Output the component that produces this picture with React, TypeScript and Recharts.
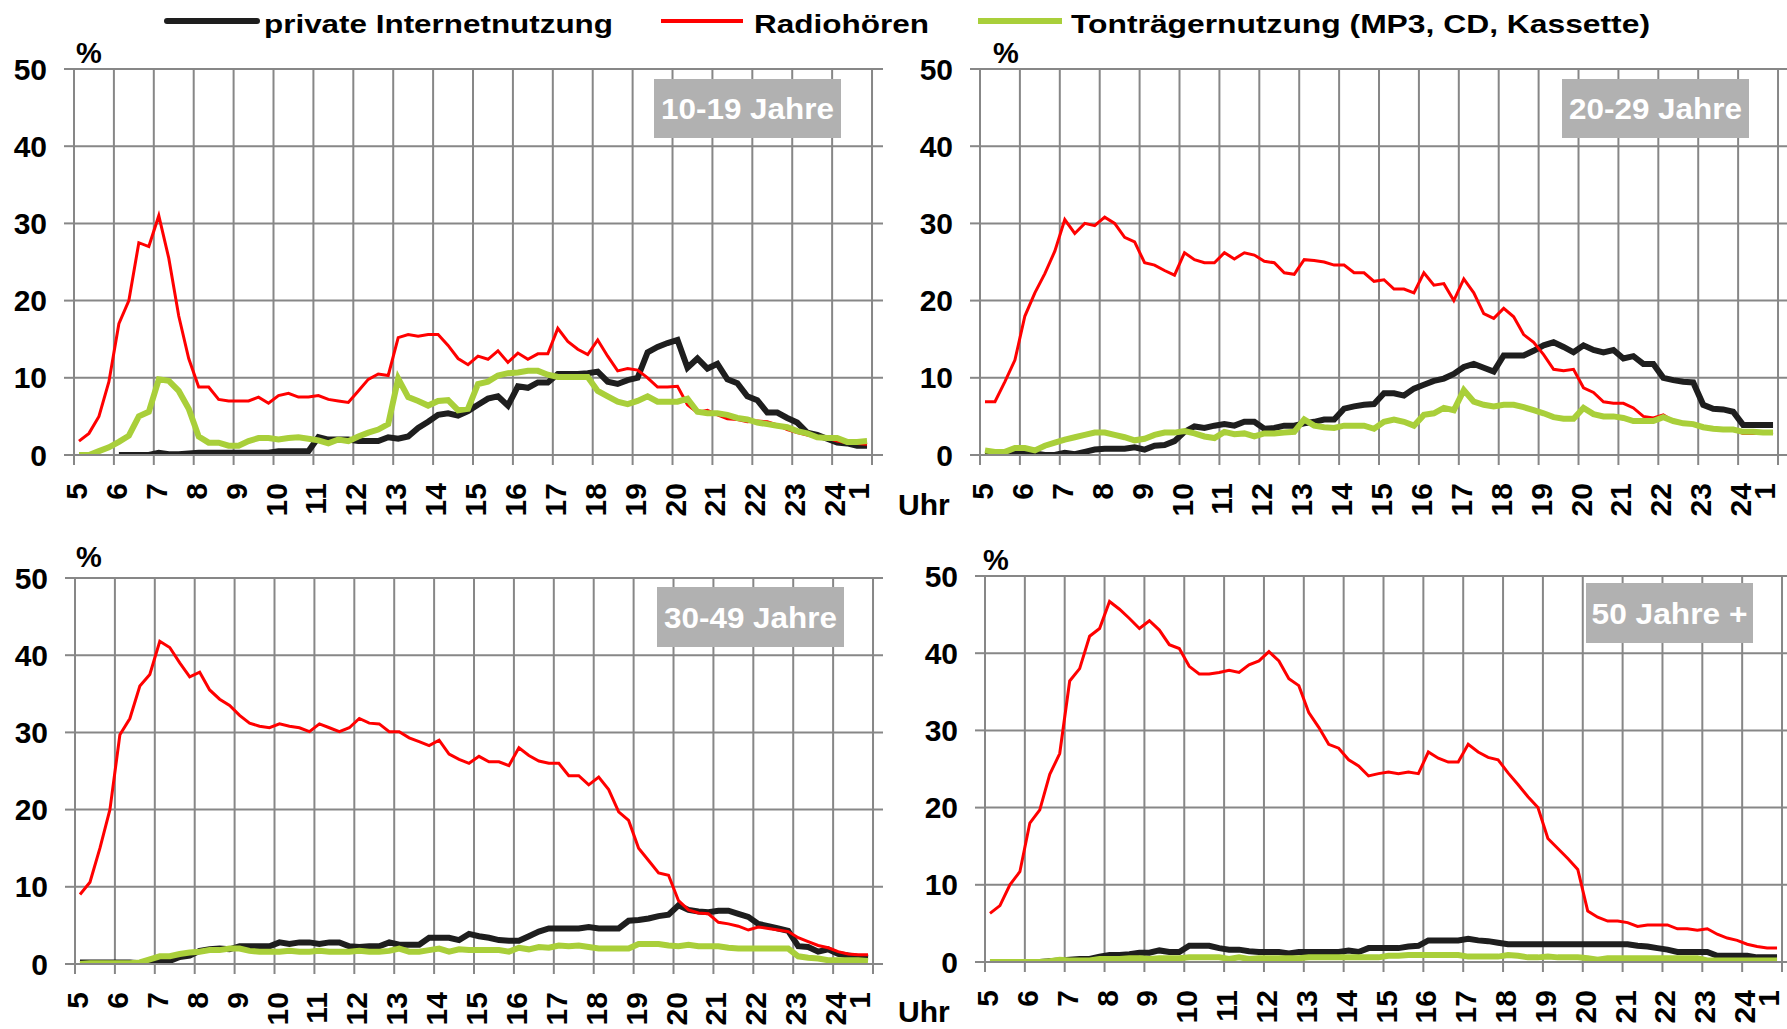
import React from "react";
import { LineChart, Line, XAxis, YAxis, CartesianGrid } from "recharts";

const FONT = '"Liberation Sans", Arial, sans-serif';
const GRID = "#878787";

const HOURS = ["5", "6", "7", "8", "9", "10", "11", "12", "13", "14", "15", "16", "17", "18", "19", "20", "21", "22", "23", "24", "1"];
const X_TICKS = HOURS.map((_, i) => i * 4);
const Y_TICKS = [0, 10, 20, 30, 40, 50];

// quarter-hour values, 5:00 - 1:00 (80 slots)
const internet1 = [
  null, null, null, null, 0, 0, 0, 0, 0.3, 0.1,
  0.1, 0.2, 0.3, 0.3, 0.3, 0.3, 0.3, 0.3, 0.3, 0.3,
  0.5, 0.5, 0.5, 0.5, 2.3, 2.0, 2.0, 2.0, 1.8, 1.8,
  1.8, 2.3, 2.1, 2.4, 3.5, 4.3, 5.2, 5.4, 5.1, 5.7,
  6.5, 7.3, 7.6, 6.4, 8.9, 8.7, 9.4, 9.4, 10.5, 10.5,
  10.5, 10.6, 10.8, 9.5, 9.2, 9.7, 10, 13.3, 14, 14.5,
  14.9, 11.3, 12.5, 11.2, 11.8, 9.8, 9.3, 7.6, 7.1, 5.5,
  5.5, 4.8, 4.2, 2.9, 2.6, 2.1, 1.6, 1.5, 1.2, 1.2,
];
const radio1 = [
  1.8, 2.8, 5, 9.5, 17, 20, 27.5, 27, 31, 25.5,
  18, 12.5, 8.8, 8.8, 7.2, 7, 7, 7, 7.5, 6.7,
  7.7, 8, 7.5, 7.5, 7.7, 7.2, 7, 6.8, 8.3, 9.8,
  10.5, 10.3, 15.2, 15.6, 15.4, 15.6, 15.6, 14.2, 12.5, 11.7,
  12.8, 12.4, 13.5, 12, 13.2, 12.4, 13.1, 13.1, 16.4, 14.7,
  13.7, 13, 14.9, 12.8, 10.9, 11.2, 11, 10, 8.8, 8.8,
  8.9, 6.5, 5.5, 5.8, 5.2, 4.7, 4.6, 4.3, 4.4, 4.3,
  3.9, 3.3, 2.9, 2.6, 2.3, 2.2, 1.8, 1.6, 1.5, 1.4,
];
const ton1 = [
  0, 0, 0.5, 1.0, 1.7, 2.5, 5, 5.6, 9.8, 9.6,
  8.3, 6, 2.4, 1.6, 1.6, 1.2, 1.2, 1.8, 2.2, 2.2,
  2.0, 2.2, 2.3, 2.1, 1.9, 1.5, 2.0, 1.8, 2.4, 2.9,
  3.3, 4.0, 9.9, 7.5, 7.0, 6.4, 7.0, 7.1, 5.8, 6.0,
  9.2, 9.5, 10.3, 10.6, 10.7, 10.9, 10.9, 10.4, 10.1, 10.1,
  10.1, 10.1, 8.3, 7.6, 6.9, 6.6, 7.0, 7.6, 6.9, 6.9,
  6.9, 7.3, 5.6, 5.4, 5.4, 5.2, 4.8, 4.6, 4.2, 4.0,
  3.8, 3.6, 3.1, 2.8, 2.3, 2.2, 2.2, 1.7, 1.7, 1.8,
];

const internet2 = [
  0.1, 0, 0, 0.2, 0.2, 0.2, 0, 0, 0.3, 0.1,
  0.4, 0.7, 0.8, 0.8, 0.8, 1.0, 0.7, 1.2, 1.3, 1.8,
  3.0, 3.7, 3.5, 3.8, 4.0, 3.8, 4.3, 4.3, 3.4, 3.5,
  3.8, 3.8, 4.1, 4.3, 4.6, 4.6, 6.0, 6.3, 6.5, 6.6,
  8.0, 8.0, 7.7, 8.6, 9.1, 9.6, 9.9, 10.5, 11.4, 11.8,
  11.3, 10.8, 12.9, 12.9, 12.9, 13.5, 14.2, 14.6, 14.0, 13.3,
  14.2, 13.6, 13.3, 13.6, 12.5, 12.8, 11.8, 11.8, 10.0, 9.7,
  9.5, 9.4, 6.5, 6.0, 5.9, 5.6, 3.9, 3.9, 3.9, 3.9,
];
const radio2 = [
  6.9, 6.9, 9.5, 12.3, 18, 21, 23.5, 26.4, 30.5, 28.7,
  30, 29.7, 30.8, 30, 28.2, 27.6, 24.9, 24.6, 23.9, 23.3,
  26.2, 25.3, 24.9, 24.9, 26.2, 25.4, 26.2, 25.9, 25.1, 24.9,
  23.6, 23.4, 25.3, 25.2, 25, 24.6, 24.6, 23.6, 23.6, 22.5,
  22.7, 21.5, 21.5, 21, 23.6, 22, 22.2, 20, 22.8, 21,
  18.3, 17.7, 19, 17.9, 15.6, 14.6, 13, 11.1, 10.9, 11.1,
  8.7, 8.1, 6.9, 6.7, 6.7, 6.1, 5.0, 4.8, 5.2, 4.4,
  4.1, 3.9, 3.7, 3.4, 3.3, 3.3, 2.8, 2.8, 2.8, 2.9,
];
const ton2 = [
  0.6, 0.4, 0.4, 0.9, 0.9, 0.6, 1.2, 1.6, 2.0, 2.3,
  2.6, 2.9, 2.9, 2.6, 2.3, 1.9, 2.1, 2.6, 2.9, 2.9,
  3.1, 2.8, 2.4, 2.2, 3.0, 2.7, 2.8, 2.4, 2.8, 2.8,
  2.9, 3.0, 4.6, 3.8, 3.6, 3.5, 3.8, 3.8, 3.8, 3.4,
  4.3, 4.6, 4.3, 3.8, 5.2, 5.4, 6.1, 5.8, 8.4, 6.9,
  6.5, 6.3, 6.5, 6.5, 6.2, 5.8, 5.4, 4.9, 4.7, 4.7,
  6.1, 5.3, 5.0, 5.0, 4.8, 4.4, 4.4, 4.4, 4.9, 4.4,
  4.1, 4.0, 3.6, 3.4, 3.3, 3.3, 3.0, 3.0, 2.9, 2.9,
];

const internet3 = [
  0.2, 0.2, 0.2, 0.2, 0.2, 0.2, 0.1, 0.4, 0.5, 0.4,
  0.9, 1.1, 1.7, 1.9, 2.0, 1.9, 2.3, 2.3, 2.3, 2.3,
  2.8, 2.6, 2.8, 2.8, 2.6, 2.8, 2.8, 2.3, 2.2, 2.3,
  2.3, 2.8, 2.5, 2.5, 2.5, 3.4, 3.4, 3.4, 3.1, 3.9,
  3.6, 3.4, 3.1, 3.0, 3.0, 3.6, 4.2, 4.6, 4.6, 4.6,
  4.6, 4.8, 4.6, 4.6, 4.6, 5.6, 5.7, 5.9, 6.2, 6.4,
  7.6, 7.0, 6.8, 6.7, 6.9, 6.9, 6.5, 6.1, 5.2, 4.9,
  4.6, 4.3, 2.3, 2.2, 1.6, 1.9, 1.3, 1.1, 0.9, 0.8,
];
const radio3 = [
  9, 10.6, 15, 20, 29.7, 31.8, 36, 37.5, 41.8, 41,
  39, 37.2, 37.8, 35.5, 34.3, 33.5, 32.2, 31.2, 30.8, 30.6,
  31.1, 30.8, 30.6, 30.1, 31.1, 30.6, 30.1, 30.6, 31.8, 31.2,
  31.1, 30.1, 30.1, 29.3, 28.8, 28.3, 29, 27.2, 26.5, 26,
  26.9, 26.2, 26.2, 25.7, 28, 27, 26.3, 26, 26, 24.4,
  24.4, 23.2, 24.2, 22.6, 19.7, 18.6, 15, 13.4, 11.8, 11.5,
  8.2, 7.0, 6.6, 6.5, 5.4, 5.2, 4.9, 4.4, 4.8, 4.6,
  4.4, 4.2, 3.4, 2.9, 2.4, 2.1, 1.6, 1.3, 1.2, 1.2,
];
const ton3 = [
  0, 0.1, 0.1, 0.1, 0.1, 0.1, 0.2, 0.6, 1.0, 1.0,
  1.3, 1.5, 1.6, 1.8, 1.8, 2.0, 2.0, 1.7, 1.6, 1.6,
  1.6, 1.7, 1.6, 1.6, 1.7, 1.6, 1.6, 1.6, 1.7, 1.6,
  1.6, 1.7, 2.0, 1.6, 1.6, 1.8, 2.0, 1.6, 1.9, 1.8,
  1.8, 1.8, 1.8, 1.6, 2.1, 1.9, 2.2, 2.1, 2.4, 2.3,
  2.4, 2.2, 2.0, 2.0, 2.0, 2.0, 2.6, 2.6, 2.6, 2.4,
  2.3, 2.5, 2.3, 2.3, 2.3, 2.1, 2.0, 2.0, 2.0, 2.0,
  2.0, 2.0, 1.0, 0.8, 0.7, 0.5, 0.5, 0.5, 0.5, 0.4,
];

const internet4 = [
  0, 0, 0, 0, 0, 0, 0.1, 0.2, 0.3, 0.4,
  0.4, 0.7, 0.9, 0.9, 1.0, 1.2, 1.2, 1.5, 1.3, 1.3,
  2.1, 2.1, 2.1, 1.8, 1.6, 1.6, 1.4, 1.3, 1.3, 1.3,
  1.1, 1.3, 1.3, 1.3, 1.3, 1.3, 1.5, 1.3, 1.8, 1.8,
  1.8, 1.8, 2.0, 2.1, 2.8, 2.8, 2.8, 2.8, 3.0, 2.8,
  2.7, 2.5, 2.3, 2.3, 2.3, 2.3, 2.3, 2.3, 2.3, 2.3,
  2.3, 2.3, 2.3, 2.3, 2.3, 2.1, 2.0, 1.8, 1.6, 1.3,
  1.3, 1.3, 1.3, 0.8, 0.8, 0.8, 0.8, 0.6, 0.6, 0.6,
];
const radio4 = [
  6.3, 7.3, 10, 11.7, 18, 19.7, 24.3, 27, 36.4, 38,
  42.2, 43.2, 46.7, 45.7, 44.5, 43.2, 44.2, 43, 41.1, 40.6,
  38.3, 37.3, 37.3, 37.5, 37.8, 37.5, 38.5, 39, 40.2, 39,
  36.7, 35.8, 32.3, 30.4, 28.2, 27.7, 26.2, 25.4, 24.1, 24.4,
  24.6, 24.4, 24.6, 24.4, 27.2, 26.4, 25.9, 25.9, 28.2, 27.2,
  26.5, 26.2, 24.5, 23, 21.4, 20, 16, 14.7, 13.4, 12,
  6.6, 5.8, 5.3, 5.3, 5.1, 4.6, 4.8, 4.8, 4.8, 4.3,
  4.3, 4.1, 4.3, 3.6, 3.1, 2.8, 2.3, 2.0, 1.8, 1.8,
];
const ton4 = [
  0, 0, 0, 0, 0, 0, 0.1, 0.3, 0.2, 0.2,
  0.2, 0.4, 0.4, 0.4, 0.5, 0.5, 0.4, 0.5, 0.5, 0.5,
  0.6, 0.6, 0.6, 0.6, 0.4, 0.6, 0.4, 0.5, 0.5, 0.5,
  0.5, 0.5, 0.6, 0.6, 0.6, 0.6, 0.6, 0.6, 0.6, 0.6,
  0.8, 0.8, 0.9, 0.9, 0.9, 0.9, 0.9, 0.9, 0.7, 0.7,
  0.7, 0.7, 0.9, 0.8, 0.6, 0.6, 0.7, 0.6, 0.6, 0.6,
  0.5, 0.3, 0.5, 0.5, 0.5, 0.5, 0.5, 0.5, 0.5, 0.5,
  0.5, 0.5, 0.2, 0.2, 0.2, 0.2, 0.2, 0.2, 0.2, 0.2,
];

const SERIES = [
  { key: "internet", name: "private Internetnutzung", color: "#1e1e1e", width: 6 },
  { key: "radio", name: "Radiohören", color: "#ff0000", width: 3 },
  { key: "ton", name: "Tonträgernutzung (MP3, CD, Kassette)", color: "#a9cf3a", width: 6 },
];

function buildRows(internet: (number | null)[], radio: number[], ton: number[]) {
  // each value sits in the middle of its quarter-hour slot
  return radio.map((r, i) => ({ x: i + 0.5, internet: internet[i], radio: r, ton: ton[i] }));
}

const PANELS = [
  { label: "10-19 Jahre", rows: buildRows(internet1, radio1, ton1), left: 0, top: 30, width: 900, mRight: 17, height: 500, yW: 74, mTop: 39, xH: 75, xMax: 81.1, box: { x: 654, y: 79, w: 187, h: 59 }, pct: { x: 76, y: 63 }, uhr: null },
  { label: "20-29 Jahre", rows: buildRows(internet2, radio2, ton2), left: 890, top: 30, width: 897, mRight: 0, height: 500, yW: 90, mTop: 39, xH: 75, xMax: 80.9, box: { x: 1562, y: 79, w: 187, h: 59 }, pct: { x: 993, y: 63 }, uhr: { x: 898, y: 515 } },
  { label: "30-49 Jahre", rows: buildRows(internet3, radio3, ton3), left: 0, top: 540, width: 900, mRight: 17, height: 489, yW: 75, mTop: 38, xH: 65, xMax: 81.0, box: { x: 657, y: 587, w: 187, h: 60 }, pct: { x: 76, y: 567 }, uhr: null },
  { label: "50 Jahre +", rows: buildRows(internet4, radio4, ton4), left: 890, top: 540, width: 897, mRight: 0, height: 489, yW: 95, mTop: 36, xH: 67, xMax: 80.5, box: { x: 1586, y: 583, w: 167, h: 60 }, pct: { x: 983, y: 570 }, uhr: { x: 898, y: 1022 } },
];

function HourTick(props: any) {
  const { x, y, payload } = props;
  const idx = Math.round(payload.value / 4);
  const label = HOURS[idx];
  // the last label is pulled in so it stays inside the frame
  const ax = idx === HOURS.length - 1 ? x - 3 : x + 13;
  const ay = y + 18;
  return (
    <text
      x={ax}
      y={ay}
      transform={`rotate(-90 ${ax} ${ay})`}
      textAnchor="end"
      fontSize={30}
      fontWeight="bold"
      fontFamily={FONT}
      fill="#000"
    >
      {label}
    </text>
  );
}

function Panel({ p }: { p: (typeof PANELS)[number] }) {
  return (
    <div style={{ position: "absolute", left: p.left, top: p.top }}>
      <LineChart
        width={p.width}
        height={p.height}
        data={p.rows}
        margin={{ top: p.mTop, right: p.mRight, bottom: 0, left: 0 }}
        style={{ fontFamily: FONT }}
      >
        <CartesianGrid stroke={GRID} strokeWidth={2} syncWithTicks />
        <XAxis
          type="number"
          dataKey="x"
          domain={[0, p.xMax]}
          ticks={X_TICKS}
          interval={0}
          allowDataOverflow
          height={p.xH}
          tickSize={10}
          tickMargin={0}
          tickLine={{ stroke: GRID, strokeWidth: 2 }}
          axisLine={{ stroke: GRID, strokeWidth: 2 }}
          tick={(tp: any) => <HourTick {...tp} />}
        />
        <YAxis
          type="number"
          domain={[0, 50]}
          ticks={Y_TICKS}
          interval={0}
          allowDataOverflow
          width={p.yW}
          tickSize={10}
          tickMargin={17}
          tickLine={{ stroke: GRID, strokeWidth: 2 }}
          axisLine={{ stroke: GRID, strokeWidth: 2 }}
          tick={{ fontSize: 30, fontWeight: "bold", fill: "#000", fontFamily: FONT }}
        />
        {SERIES.map((s) => (
          <Line
            key={s.key}
            type="linear"
            dataKey={s.key}
            name={s.name}
            stroke={s.color}
            strokeWidth={s.width}
            dot={false}
            activeDot={false}
            isAnimationActive={false}
          />
        ))}
      </LineChart>
    </div>
  );
}

const LEGEND = [
  { x1: 167, x2: 257, tx: 264, tw: 349, cap: "round" },
  { x1: 661, x2: 743, tx: 754, tw: 175, cap: "butt" },
  { x1: 978, x2: 1062, tx: 1071, tw: 579, cap: "butt" },
];

export default function App() {
  return (
    <div style={{ position: "absolute", left: 0, top: 0, width: 1787, height: 1029, background: "#fff", overflow: "hidden" }}>
      {PANELS.map((p) => (
        <Panel key={p.label} p={p} />
      ))}
      <svg width={1787} height={1029} style={{ position: "absolute", left: 0, top: 0, pointerEvents: "none" }} fontFamily={FONT} fontWeight="bold">
        {SERIES.map((s, i) => (
          <g key={s.key}>
            <line x1={LEGEND[i].x1} x2={LEGEND[i].x2} y1={21} y2={21} stroke={s.color} strokeWidth={s.key === "radio" ? 4 : 6} strokeLinecap={LEGEND[i].cap as any} />
            <text x={LEGEND[i].tx} y={33} fontSize={25} textLength={LEGEND[i].tw} lengthAdjust="spacingAndGlyphs" fill="#000">
              {s.name}
            </text>
          </g>
        ))}
        {PANELS.map((p) => (
          <g key={p.label}>
            <text x={p.pct.x} y={p.pct.y} fontSize={29} fill="#000">%</text>
            {p.uhr && (
              <text x={p.uhr.x} y={p.uhr.y} fontSize={30} fill="#000">Uhr</text>
            )}
            <rect x={p.box.x} y={p.box.y} width={p.box.w} height={p.box.h} fill="#b1b1b1" />
            <text
              x={p.box.x + p.box.w / 2}
              y={p.box.y + p.box.h / 2 + 10.5}
              fontSize={29}
              fill="#fff"
              textAnchor="middle"
              textLength={p.label === "50 Jahre +" ? 156 : 173}
              lengthAdjust="spacingAndGlyphs"
            >
              {p.label}
            </text>
          </g>
        ))}
      </svg>
    </div>
  );
}
